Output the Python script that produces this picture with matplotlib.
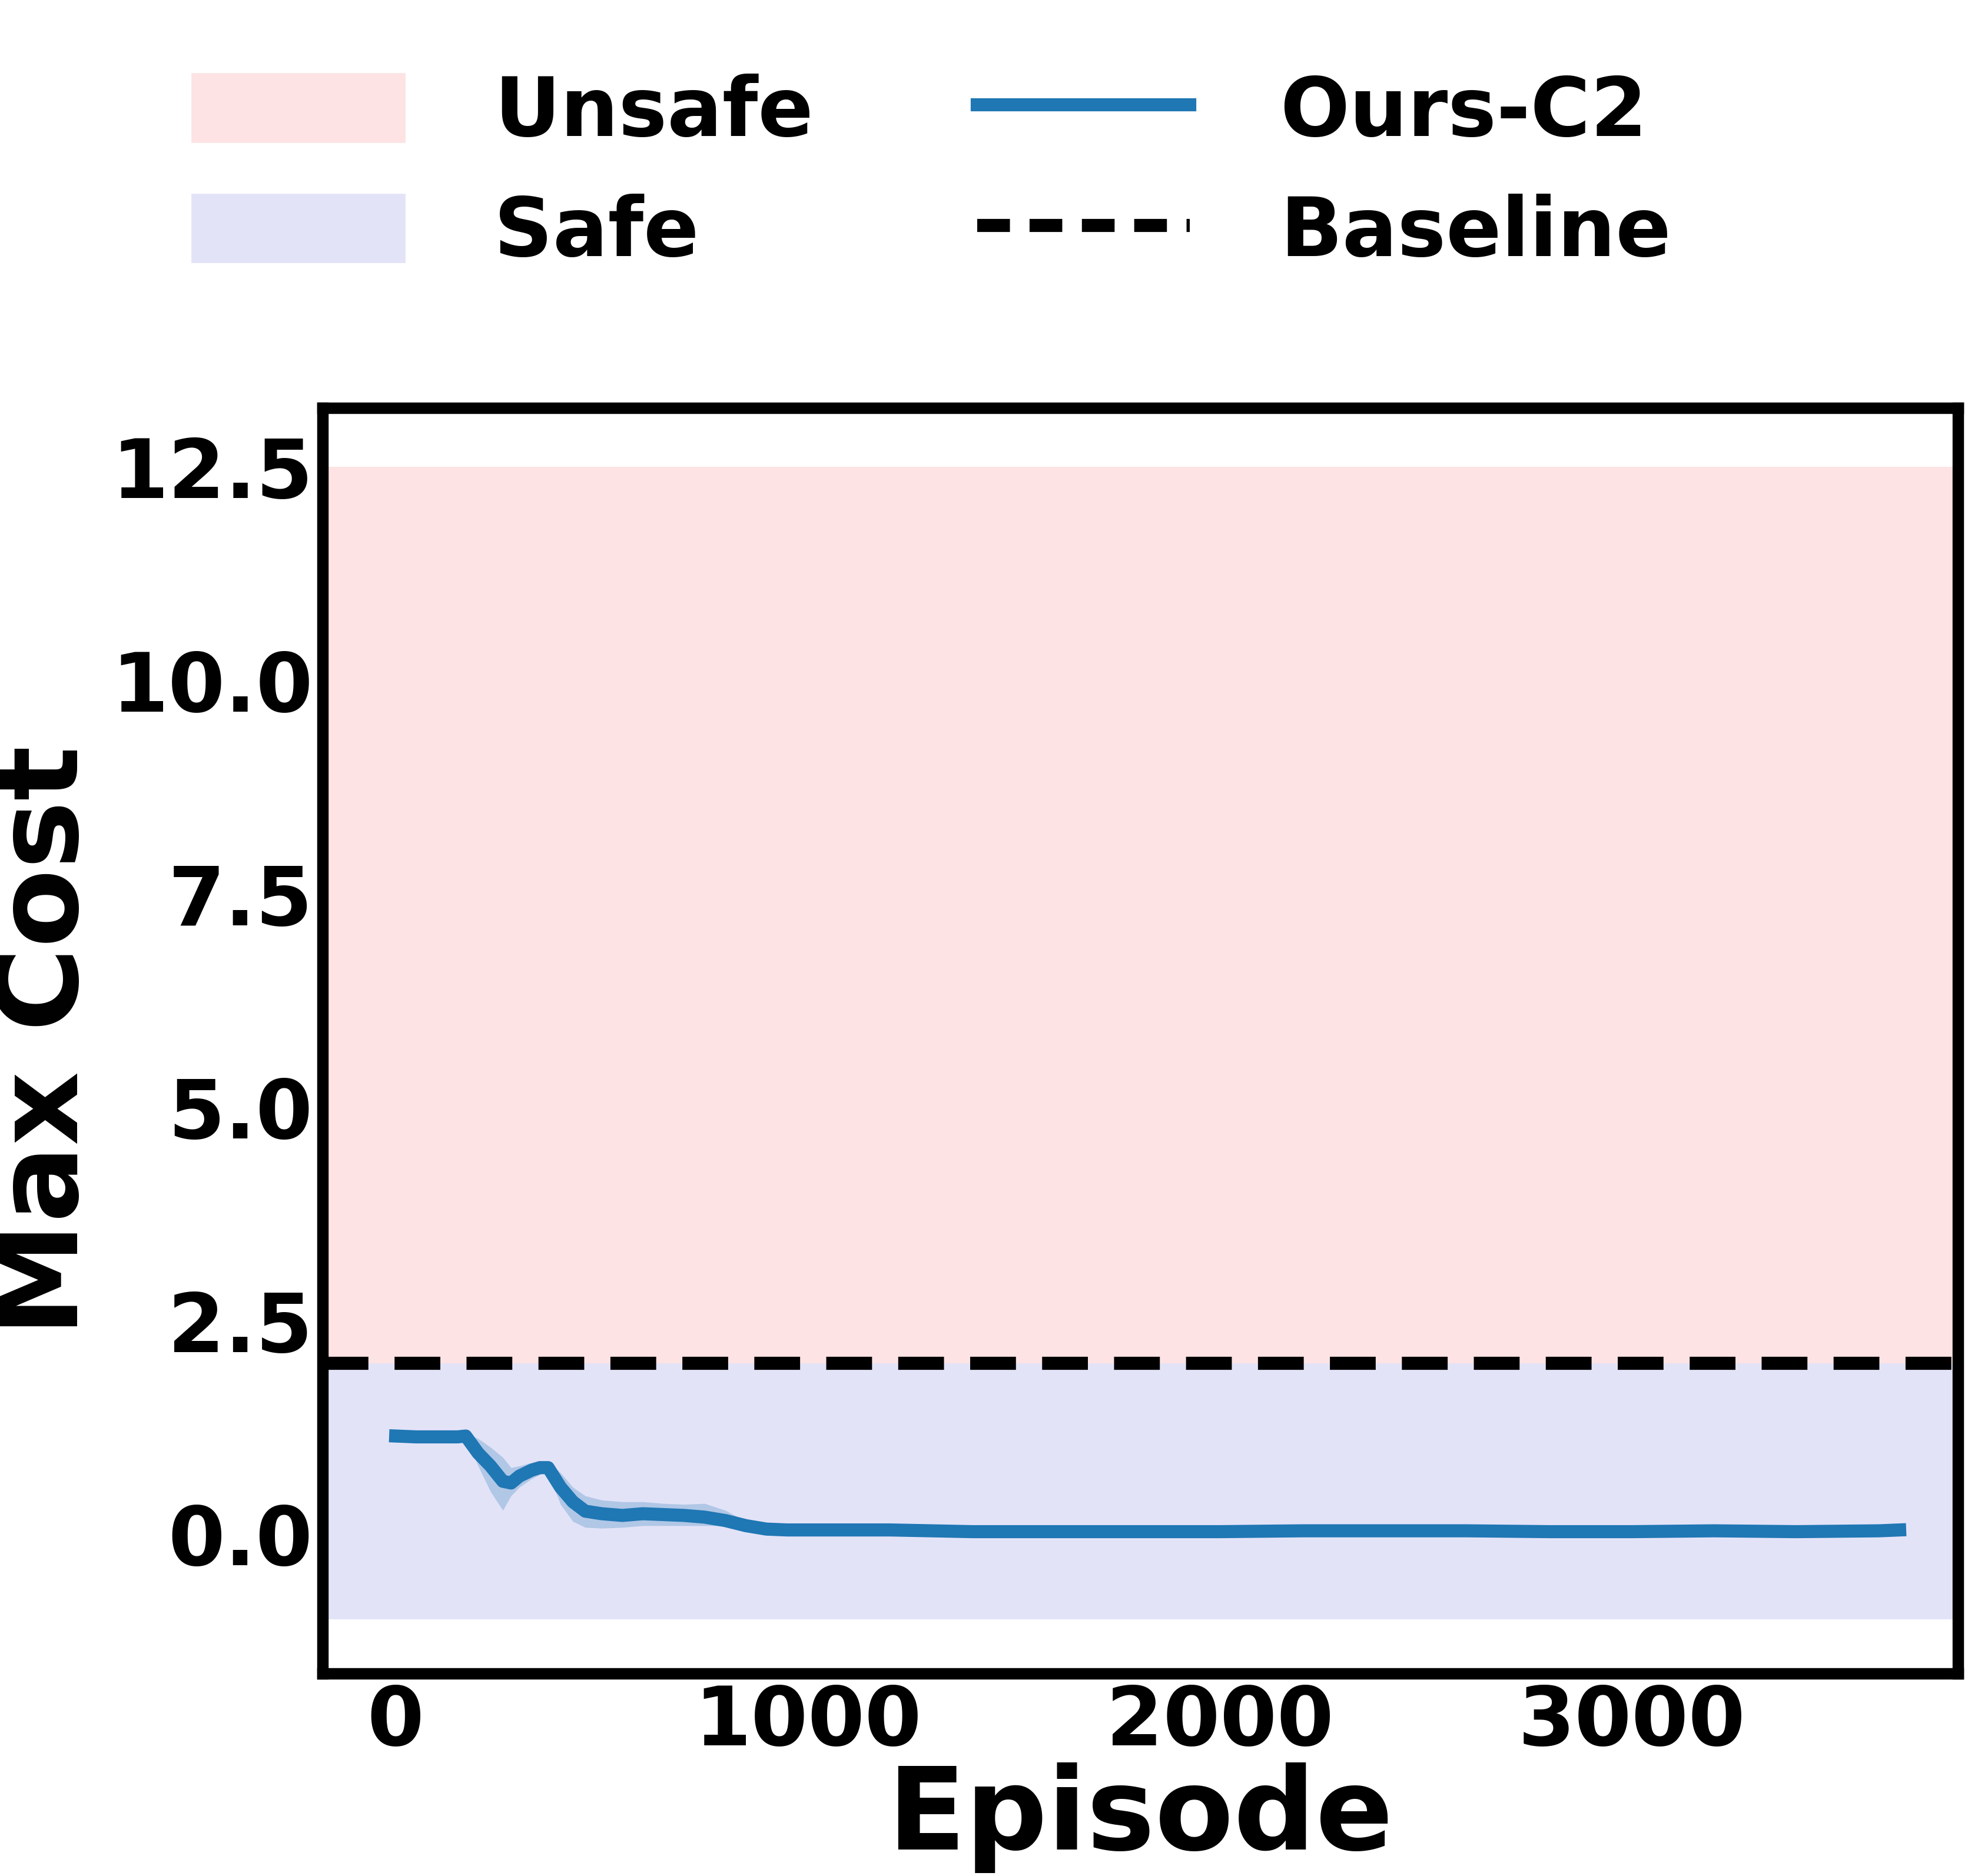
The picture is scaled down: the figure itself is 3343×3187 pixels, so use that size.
import matplotlib
matplotlib.use("Agg")
import matplotlib.pyplot as plt
import numpy as np
from matplotlib.patches import Patch
from matplotlib.lines import Line2D

episodes = [0, 50, 100, 150, 170, 200, 230, 260, 280, 300, 330, 350, 370, 400, 430, 460, 500, 550, 600, 650, 700, 750, 800, 850, 900, 950, 1000, 1200, 1400, 1600, 1800, 2000, 2200, 2400, 2600, 2800, 3000, 3200, 3400, 3600, 3650]
mean =     [1.15, 1.14, 1.14, 1.14, 1.15, 0.95, 0.8, 0.62, 0.6, 0.68, 0.75, 0.78, 0.78, 0.55, 0.38, 0.27, 0.24, 0.22, 0.24, 0.23, 0.22, 0.2, 0.16, 0.1, 0.06, 0.05, 0.05, 0.05, 0.03, 0.03, 0.03, 0.03, 0.04, 0.04, 0.04, 0.03, 0.03, 0.04, 0.03, 0.04, 0.05]
lower =    [1.12, 1.12, 1.12, 1.12, 1.13, 0.8, 0.5, 0.28, 0.45, 0.55, 0.65, 0.7, 0.72, 0.35, 0.15, 0.08, 0.07, 0.08, 0.1, 0.1, 0.1, 0.1, 0.1, 0.07, 0.04, 0.04, 0.04, 0.04, 0.02, 0.02, 0.02, 0.02, 0.03, 0.03, 0.03, 0.02, 0.02, 0.03, 0.02, 0.03, 0.04]
upper =    [1.18, 1.17, 1.17, 1.17, 1.18, 1.12, 1.02, 0.9, 0.78, 0.8, 0.84, 0.85, 0.85, 0.72, 0.55, 0.45, 0.4, 0.38, 0.38, 0.36, 0.35, 0.36, 0.28, 0.15, 0.08, 0.06, 0.06, 0.06, 0.04, 0.04, 0.04, 0.04, 0.05, 0.05, 0.05, 0.04, 0.04, 0.05, 0.04, 0.05, 0.06]
baseline = 2.0
unsafe_top = 12.5
safe_bottom = -1.0

plt.rcParams['font.family'] = ['DejaVu Sans']
plt.rcParams['font.weight'] = 'bold'

fig = plt.figure(figsize=(16.715, 15.935), dpi=200)
ax = fig.add_axes([0.164, 0.108, 0.831, 0.6745])
ax.axhspan(baseline, unsafe_top, color='#fde3e3', lw=0)
ax.axhspan(safe_bottom, baseline, color='#e3e3f8', lw=0)
ax.fill_between(episodes, lower, upper, color='#1f77b4', alpha=0.25, lw=0)
ax.plot(episodes, mean, color='#1f77b4', lw=8)
ax.axhline(baseline, color='black', ls='--', lw=8, dashes=(3.5, 2))
ax.set_xlim(-177, 3792)
ax.set_ylim(-1.63, 13.19)
ax.set_yticks([0.0, 2.5, 5.0, 7.5, 10.0, 12.5])
ax.set_xticks([0, 1000, 2000, 3000])
ax.tick_params(length=0, labelsize=50, pad=6)
for lab in ax.get_xticklabels() + ax.get_yticklabels():
    lab.set_fontweight('bold')
for s in ax.spines.values():
    s.set_linewidth(7)
ax.set_xlabel('Episode', fontsize=70, fontweight='bold', labelpad=0)
ax.set_ylabel('Max Cost', fontsize=70, fontweight='bold', labelpad=6)

handles = [Patch(color='#fde3e3', label='Unsafe'), Patch(color='#e3e3f8', label='Safe'),
           Line2D([], [], color='#1f77b4', lw=8, label='Ours-C2'),
           Line2D([], [], color='black', lw=8, ls='--', dashes=(2.5, 1.5), label='Baseline')]
fig.legend(handles=handles, ncol=2, loc='upper left', bbox_to_anchor=(0.06, 1.0),
           frameon=False, fontsize=50, handlelength=2.6, handleheight=0.9,
           columnspacing=2.0, handletextpad=1.1, labelspacing=0.5)
fig.savefig('out.png', dpi=200)
